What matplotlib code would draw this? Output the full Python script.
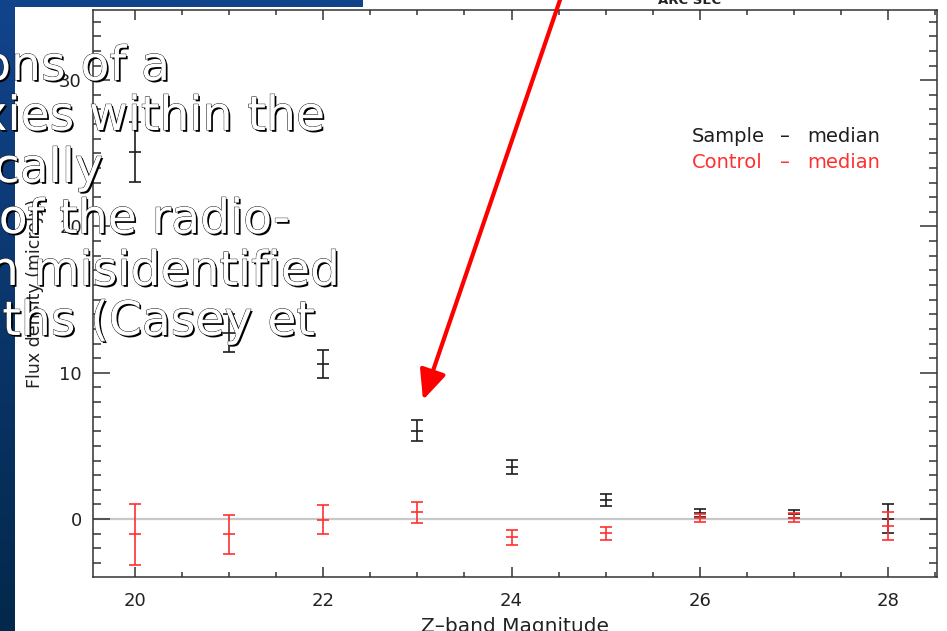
import matplotlib
matplotlib.use("Agg")
import matplotlib.pyplot as plt
import matplotlib.patheffects as pe
from matplotlib.patches import FancyArrowPatch
from matplotlib.ticker import MultipleLocator
import numpy as np

# Z-band magnitude bins
mag = [20, 21, 22, 23, 24, 25, 26, 27, 28]

# stacked radio flux, sample vs. control (median values and errors)
sample_flux = [25.1, 12.7, 10.6, 6.05, 3.55, 1.3, 0.4, 0.35, 0.03]
sample_err = [2.05, 1.3, 0.96, 0.74, 0.5, 0.39, 0.27, 0.27, 0.97]
control_flux = [-1.05, -1.05, -0.05, 0.46, -1.25, -0.98, 0.08, 0.1, -0.47]
control_err = [2.1, 1.35, 0.98, 0.72, 0.53, 0.42, 0.3, 0.3, 0.97]

legend_names = ["Sample", "Control"]
slide_lines = ["ons of a", "xies within the", "cally",
               "of the radio-", "n misidentified", "ths (Casey et"]

W, H = 947, 631


def px(x, y):
    # pixel position measured from the top-left corner -> figure fraction
    return x / W, 1 - y / H


fig = plt.figure(figsize=(W / 100, H / 100), dpi=100, facecolor="white")

# slide background showing around the pasted plot
bg = fig.add_axes([0, 0, 1, 1], zorder=5)
bg.axis("off")
bg.patch.set_alpha(0)
top_c = np.array([18, 68, 140]) / 255
bot_c = np.array([3, 40, 75]) / 255
t = np.linspace(0, 1, 256)[:, None, None]
grad = top_c * (1 - t) + bot_c * t
bg.imshow(grad, extent=[0, 15, H, 0], aspect="auto", interpolation="bilinear")
bg.imshow(grad[:4], extent=[0, 363, 7, 0], aspect="auto", interpolation="bilinear")
bg.set_xlim(0, W)
bg.set_ylim(H, 0)

ax = fig.add_axes([93 / W, 54 / H, 844 / W, 567.5 / H])
ax.set_xlim(19.554, 28.52)
ax.set_ylim(-3.96, 34.83)

ax.axhline(0, color="#c8c8c8", lw=1.6, zorder=1)

ax.errorbar(mag, sample_flux, yerr=sample_err, fmt="_", color="#1e1e1e",
            ecolor="#1e1e1e", elinewidth=1.2, capsize=4, capthick=1.2,
            markersize=9, markeredgewidth=1.2, zorder=3)
ax.errorbar(mag, control_flux, yerr=control_err, fmt="_", color="#ff3030",
            ecolor="#ff3030", elinewidth=1.2, capsize=4, capthick=1.2,
            markersize=9, markeredgewidth=1.2, zorder=4)

ax.xaxis.set_major_locator(MultipleLocator(2))
ax.xaxis.set_minor_locator(MultipleLocator(0.5))
ax.yaxis.set_major_locator(MultipleLocator(10))
ax.yaxis.set_minor_locator(MultipleLocator(1))

for s in ax.spines.values():
    s.set_linewidth(1.1)
    s.set_color("#333333")

ax.tick_params(axis="both", which="both", direction="in", top=True, right=True,
               color="#333333", width=1.1, labelsize=13, labelcolor="#222222")
ax.tick_params(axis="x", which="major", length=7.2, pad=11)
ax.tick_params(axis="x", which="minor", length=3.6)
ax.tick_params(axis="y", which="major", length=12.2, pad=8)
ax.tick_params(axis="y", which="minor", length=5.8)

ax.set_xlabel("Z\u2013band Magnitude", fontsize=14.5, color="#222222")
ax.xaxis.set_label_coords(0.5, -0.071)
ax.set_ylabel("Flux density (microJy)", fontsize=12.5, color="#222222")
ax.yaxis.set_label_coords(-0.058, 0.5)

# legend written as plain text, as in the original plot
for name, color, ypix in zip(legend_names, ["#1e1e1e", "#ff3030"], [142, 168]):
    fx, fy = px(692, ypix)
    fig.text(fx, fy, name, color=color, fontsize=14, va="baseline")
    fig.text(px(785, 0)[0], fy, "\u2013", color=color, fontsize=14,
             va="baseline", ha="center")
    fig.text(px(807, 0)[0], fy, "median", color=color, fontsize=14,
             va="baseline")

fig.text(*px(690, 4), "ARC SEC", ha="center", va="baseline",
         fontsize=9.5, fontweight="bold", color="#222222")

# red arrow pointing at the m=23 bin
arrow = FancyArrowPatch(px(563.4, -10), px(423, 400), transform=fig.transFigure,
                        arrowstyle="-|>,head_length=1.0,head_width=0.45",
                        mutation_scale=18, color="#ff0000", lw=3,
                        shrinkA=0, shrinkB=0, zorder=10)
fig.add_artist(arrow)

# slide text lying over the plot
ends = [170, 325, 103, 290, 340, 315]
bases = [80, 130, 182, 233, 285, 335]
for line, xe, yb in zip(slide_lines, ends, bases):
    fig.text(*px(xe, yb), line, ha="right", va="baseline", fontsize=34,
             color="white", zorder=20,
             path_effects=[pe.withSimplePatchShadow(offset=(1.3, -1.3),
                                                    shadow_rgbFace="black",
                                                    alpha=1.0),
                           pe.Stroke(linewidth=0.6, foreground="black"),
                           pe.Normal()])

fig.savefig("out.png", dpi=100, facecolor="white")
